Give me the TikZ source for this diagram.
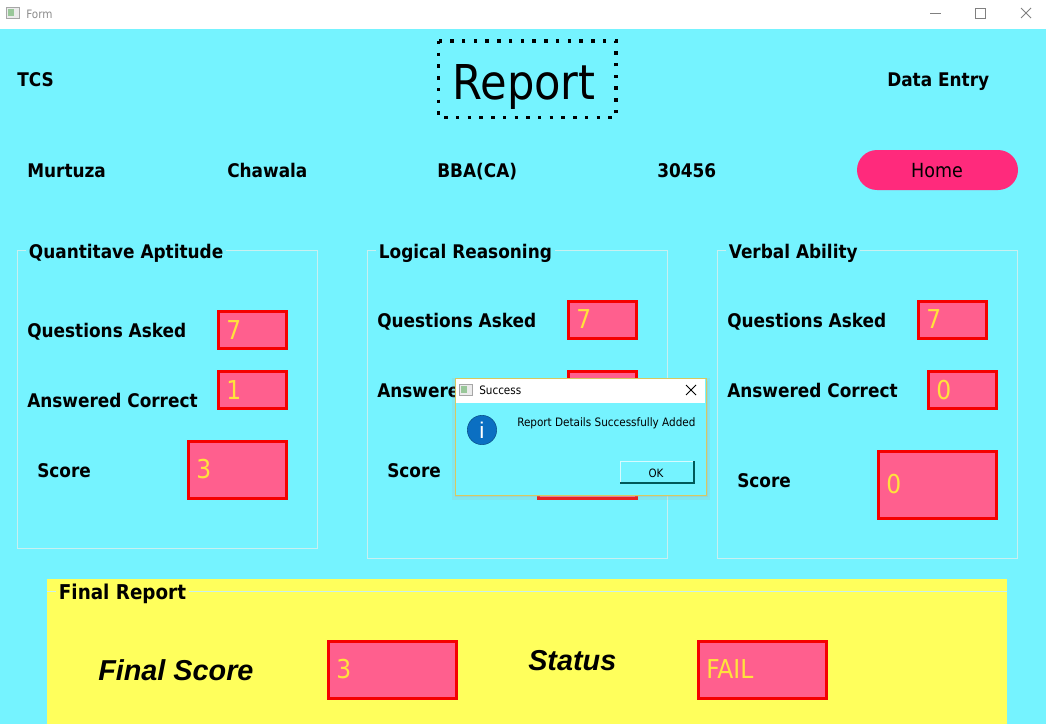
\documentclass[tikz,border=0pt]{standalone}
\usepackage{xcolor}
\usepackage{fontspec}
\setmainfont{DejaVu Sans Condensed}
\newfontfamily\arialfont{Liberation Sans}
\definecolor{formcyan}{HTML}{75F3FF}
\definecolor{fieldpink}{HTML}{FF5F8E}
\definecolor{fieldred}{HTML}{F50000}
\definecolor{valueyellow}{HTML}{FFE23C}
\definecolor{panelyellow}{HTML}{FFFF5C}
\definecolor{homepink}{HTML}{FF2A7C}
\definecolor{groupline}{HTML}{C8F0F0}
\definecolor{dialogedge}{HTML}{D8C860}
\definecolor{infoblue}{HTML}{0B6FC2}
\tikzset{
  boldtext/.style={anchor=west,inner sep=0pt,text height=12.5pt,text depth=2pt,font=\fontsize{14.1}{16}\selectfont\bfseries,text=black},
  valuetext/.style={anchor=west,inner sep=0pt,text height=13pt,text depth=0pt,font=\fontsize{19.5}{21}\selectfont,text=valueyellow},
  fieldbox/.style={draw=fieldred,fill=fieldpink,line width=2.25pt},
  groupbox/.style={draw=groupline,line width=0.6pt},
  dialogtext/.style={anchor=west,inner sep=0pt,text height=8pt,text depth=1.6pt,font=\fontsize{8.7}{10}\selectfont,text=black},
  chromeline/.style={draw=black!50,line width=0.6pt},
  slanttext/.style={anchor=west,inner sep=0pt,text height=15pt,text depth=0pt,font=\arialfont\fontsize{21.6}{24}\selectfont\bfseries\itshape},
}
\begin{document}
\begin{tikzpicture}[x=0.75pt,y=0.75pt,yscale=-1,xscale=1]
        \useasboundingbox (0,0) rectangle (1046,724);
        % window
        \fill[white] (0,0) rectangle (1046,29);
        \fill[formcyan] (0,29) rectangle (1046,724);
        \draw[black!35,fill=black!8,line width=0.5pt] (6,7) rectangle (19,18);
        \fill[black!55!green!40!white] (8,9) rectangle (14,16);
        \node (formtitle) [dialogtext,text=black!45] at (26,14) {Form};
        \draw[chromeline] (930,13) -- (941,13);
        \draw[chromeline] (975,8) rectangle (985,18);
        \draw[chromeline] (1021,8) -- (1031,18) (1031,8) -- (1021,18);
        % header
        \node (tcs) [boldtext] at (17,80) {TCS};
        \node (dataentry) [boldtext] at (887,80) {Data Entry};
        \draw[black,line width=2.6pt,dash pattern=on 2.6pt off 6.2pt] (438.5,41) rectangle (616,117.5);
        \node (report) [inner sep=0pt,font=\fontsize{36}{40}\selectfont] at (524,87) {Report};
        % student row
        \node (firstname) [boldtext] at (27,170) {Murtuza};
        \node (lastname) [boldtext] at (227,170) {Chawala};
        \node (course) [boldtext] at (437,170) {BBA(CA)};
        \node (rollno) [boldtext] at (657,170) {30456};
        \fill[homepink,rounded corners=15pt] (857,150) rectangle (1018,190);
        \node (home) [inner sep=0pt,font=\fontsize{14.6}{17}\selectfont] at (937,171) {Home};
        % quantitative
        \draw[groupbox] (17,250) rectangle (317,548);
        \node (quanttitle) [boldtext,fill=formcyan,inner xsep=2pt] at (26,251) {Quantitave Aptitude};
        \node (quantasked) [boldtext] at (27,330) {Questions Asked};
        \node (quantcorrect) [boldtext] at (27,400) {Answered Correct};
        \node (quantscore) [boldtext] at (37,470) {Score};
        \draw[fieldbox] (218.5,311) rectangle (286.5,348);
        \draw[fieldbox] (218.5,371) rectangle (286.5,408);
        \draw[fieldbox] (188.5,441) rectangle (286.5,498);
        \node (quantaskedval) [valuetext] at (226,331) {7};
        \node (quantcorrectval) [valuetext] at (226,391) {1};
        \node (quantscoreval) [valuetext] at (196,470) {3};
        % logical
        \draw[groupbox] (367,250) rectangle (667,558);
        \node (logictitle) [boldtext,fill=formcyan,inner xsep=2pt] at (376,251) {Logical Reasoning};
        \node (logicasked) [boldtext] at (377,320) {Questions Asked};
        \node (logiccorrect) [boldtext] at (377,390) {Answered Correct};
        \node (logicscore) [boldtext] at (387,470) {Score};
        \draw[fieldbox] (568.5,301) rectangle (636.5,338);
        \draw[fieldbox] (568.5,371) rectangle (636.5,408);
        \draw[fieldbox] (538,441) rectangle (636.5,498);
        \node (logicaskedval) [valuetext] at (576,320) {7};
        % verbal
        \draw[groupbox] (717,250) rectangle (1017,558);
        \node (verbaltitle) [boldtext,fill=formcyan,inner xsep=2pt] at (726,251) {Verbal Ability};
        \node (verbalasked) [boldtext] at (727,320) {Questions Asked};
        \node (verbalcorrect) [boldtext] at (727,390) {Answered Correct};
        \node (verbalscore) [boldtext] at (737,480) {Score};
        \draw[fieldbox] (918.5,301) rectangle (986.5,338);
        \draw[fieldbox] (928.5,371) rectangle (996.5,408);
        \draw[fieldbox] (878.5,451) rectangle (996.5,518);
        \node (verbalaskedval) [valuetext] at (926,320) {7};
        \node (verbalcorrectval) [valuetext] at (936,391) {0};
        \node (verbalscoreval) [valuetext] at (886,485) {0};
        % final report
        \fill[panelyellow] (47,579) rectangle (1007,724);
        \draw[groupline,line width=0.6pt] (47,591) -- (1007,591);
        \node (finaltitle) [boldtext,fill=panelyellow,inner xsep=2pt,font=\fontsize{15.3}{17}\selectfont\bfseries] at (56,592) {Final Report};
        \node (finalscore) [slanttext] at (98,670) {Final Score};
        \node (status) [slanttext] at (528,660) {Status};
        \draw[fieldbox] (328.5,641) rectangle (456.5,698);
        \draw[fieldbox] (698.5,641) rectangle (826.5,698);
        \node (finalscoreval) [valuetext] at (336,670) {3};
        \node (statusval) [valuetext] at (706,670) {FAIL};
        % message box
        \fill[black!30,opacity=0.2] (452,378) rectangle (710,500);
        \fill[black!30,opacity=0.3] (455,381) rectangle (708,497);
        \draw[dialogedge,fill=formcyan,line width=0.6pt] (455,378) rectangle (706,495);
        \fill[white] (456,379) rectangle (705,403);
        \draw[black!35,fill=black!8,line width=0.5pt] (459,384) rectangle (472,395);
        \fill[black!55!green!40!white] (461,386) rectangle (467,393);
        \node (dialogtitle) [dialogtext] at (479,390) {Success};
        \draw[black,line width=0.7pt] (686,385) -- (696,395) (696,385) -- (686,395);
        \node (infoicon) [circle,fill=infoblue,draw=infoblue!70!black,line width=0.4pt,minimum size=22pt,inner sep=0pt,text=white,font=\arialfont\fontsize{17}{18}\selectfont] at (482,430) {i};
        \node (dialogmsg) [dialogtext] at (517,422) {Report Details Successfully Added};
        \draw[white!70!formcyan,line width=0.5pt] (620,483) -- (620,461) -- (694,461);
        \draw[teal!70!black,line width=0.9pt] (620,483) -- (694,483) -- (694,461);
        \node (okbutton) [inner sep=0pt,font=\fontsize{8.6}{10}\selectfont] at (656,473) {OK};
    \end{tikzpicture}
\end{document}
